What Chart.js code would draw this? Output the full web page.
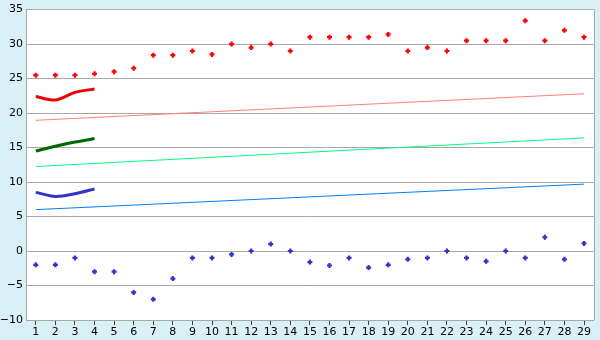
<!DOCTYPE html>
<html>
<head>
  <meta charset="UTF-8" />
  <title>Chart</title>
  <script src="https://cdn.jsdelivr.net/npm/chart.js"></script>
  <style>
    html, body { margin: 0; padding: 0; background: #daf0f7; }
    #wrap { width: 600px; height: 340px; }
  </style>
</head>
<body>
  <div id="wrap"><canvas id="chart" width="600" height="340"></canvas></div>
  <script>
    const labels = ["1","2","3","4","5","6","7","8","9","10","11","12","13","14","15","16","17","18","19","20","21","22","23","24","25","26","27","28","29"];
    const redPoints = [25.5, 25.5, 25.5, 25.7, 26, 26.5, 28.4, 28.4, 29, 28.5, 30, 29.5, 30, 29, 31, 31, 31, 31, 31.4, 29, 29.5, 29, 30.5, 30.5, 30.5, 33.4, 30.5, 32, 31];
    const bluePoints = [-2, -2, -1, -3, -3, -6, -7, -4, -1, -1, -0.5, 0, 1, 0, -1.6, -2.1, -1, -2.4, -2, -1.2, -1, 0, -1, -1.5, 0, -1, 2, -1.2, 1.1];
    const redCurve = [22.4, 21.9, 23.0, 23.5];
    const greenCurve = [14.5, 15.2, 15.8, 16.3];
    const blueCurve = [8.5, 7.9, 8.3, 9.0];
    // thin trend lines: value at first and last category
    const redTrend = [18.95, 22.8];
    const greenTrend = [12.25, 16.4];
    const blueTrend = [6.0, 9.7];

    function ends(pair) {
      const arr = labels.map(() => null);
      arr[0] = pair[0];
      arr[labels.length - 1] = pair[1];
      return arr;
    }

    const plotBox = {
      id: 'plotBox',
      beforeDraw(chart) {
        const { ctx, chartArea: a } = chart;
        ctx.save();
        ctx.fillStyle = '#ffffff';
        ctx.fillRect(a.left, a.top, a.right - a.left, a.bottom - a.top);
        ctx.restore();
      },
      afterDraw(chart) {
        const { ctx, chartArea: a } = chart;
        ctx.save();
        ctx.strokeStyle = '#a8a8a8';
        ctx.lineWidth = 1;
        ctx.beginPath();
        ctx.moveTo(Math.round(a.right) + 0.5, a.top);
        ctx.lineTo(Math.round(a.right) + 0.5, a.bottom);
        ctx.stroke();
        ctx.restore();
      }
    };

    const line = (data, color, width, tension) => ({
      data, borderColor: color, borderWidth: width, pointRadius: 0, fill: false,
      tension, spanGaps: true
    });
    const points = (data, color) => ({
      data, showLine: false, pointStyle: 'cross', pointRadius: 2.5,
      pointBorderWidth: 2.2, pointBorderColor: color, borderColor: color, backgroundColor: color
    });

    new Chart(document.getElementById('chart'), {
      type: 'line',
      data: {
        labels: labels,
        datasets: [
          line(ends(redTrend), '#ff8080', 1, 0),
          line(ends(greenTrend), '#00ff80', 1, 0),
          line(ends(blueTrend), '#0080ff', 1, 0),
          line(redCurve, '#ee0000', 3, 0.3),
          line(greenCurve, '#006600', 3, 0.3),
          line(blueCurve, '#3333cc', 3, 0.3),
          points(redPoints, '#ff0000'),
          points(bluePoints, '#3333cc')
        ]
      },
      options: {
        responsive: false,
        animation: false,
        layout: { padding: { top: 5, right: 5, left: 0, bottom: 0 } },
        plugins: { legend: { display: false }, tooltip: { enabled: false } },
        scales: {
          x: {
            offset: true,
            grid: { offset: false, drawOnChartArea: false, drawTicks: true, tickLength: 5, color: '#404040' },
            border: { color: '#a8a8a8' },
            ticks: { color: '#000', font: { family: 'DejaVu Sans', size: 11 }, padding: 1, maxRotation: 0, autoSkip: false },
            afterFit(scale) { scale.height = 20; }
          },
          y: {
            min: -10, max: 35,
            grid: { color: '#a8a8a8', drawTicks: false },
            border: { color: '#a8a8a8' },
            ticks: {
              stepSize: 5, color: '#000', padding: 3,
              font: { family: 'DejaVu Sans', size: 11 },
              callback: v => String(v).replace('-', '\u2212')
            },
            afterFit(scale) { scale.width = 26; }
          }
        }
      },
      plugins: [plotBox]
    });
  </script>
</body>
</html>
